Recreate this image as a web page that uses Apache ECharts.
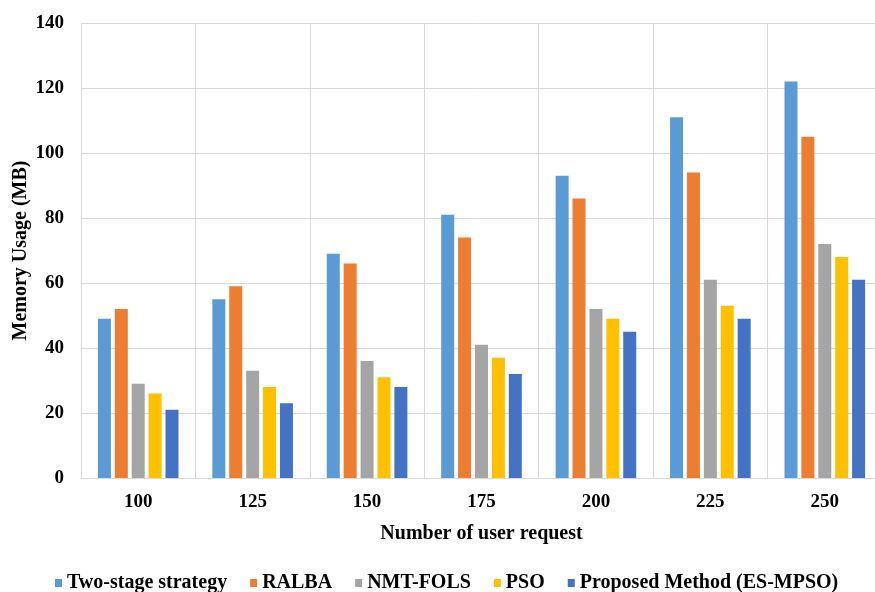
<!DOCTYPE html>
<html><head><meta charset="utf-8">
<script src="https://cdn.jsdelivr.net/npm/echarts@6/dist/echarts.min.js"></script>
<style>html,body{margin:0;padding:0;background:#fff}#c{width:875px;height:592px}</style>
</head><body><div id="c"></div>
<script>
const categories = ['100','125','150','175','200','225','250'];
const twoStage = [49, 55, 69, 81, 93, 111, 122];
const ralba = [52, 59, 66, 74, 86, 94, 105];
const nmtFols = [29, 33, 36, 41, 52, 61, 72];
const pso = [26, 28, 31, 37, 49, 53, 68];
const proposed = [21, 23, 28, 32, 45, 49, 61];
const seriesNames = ['Two-stage strategy','RALBA','NMT-FOLS','PSO','Proposed Method (ES-MPSO)'];
const seriesData = [twoStage, ralba, nmtFols, pso, proposed];
const colors = ['#5B9BD5','#ED7D31','#A5A5A5','#FFC000','#4472C4'];
const font = 'Liberation Serif, Times New Roman, serif';
const chart = echarts.init(document.getElementById('c'));
chart.setOption({
  animation:false,
  color: colors,
  grid:{left:81, top:23, width:801, height:455, containLabel:false, outerBoundsMode:'none'},
  legend:{top:568, left:50, icon:'rect', itemWidth:7, itemHeight:8, itemGap:23,
    textStyle:{fontFamily:font, fontWeight:'bold', fontSize:20, color:'#000'}},
  xAxis:{type:'category', data:categories,
    name:'Number of user request', nameLocation:'middle', nameGap:46,
    nameTextStyle:{fontFamily:font, fontWeight:'bold', fontSize:20, color:'#000'},
    axisLine:{lineStyle:{color:'#d9d9d9'}}, axisTick:{show:false},
    splitLine:{show:true, lineStyle:{color:'#d9d9d9', width:1}},
    axisLabel:{fontFamily:font, fontWeight:'bold', fontSize:19, color:'#000', margin:15}},
  yAxis:{type:'value', min:0, max:140, interval:20,
    name:'Memory Usage (MB)', nameLocation:'middle', nameGap:50, nameMoveOverlap:false,
    nameTextStyle:{fontFamily:font, fontWeight:'bold', fontSize:20, color:'#000'},
    axisLine:{show:false}, axisTick:{show:false},
    splitLine:{lineStyle:{color:'#d9d9d9', width:1}},
    axisLabel:{fontFamily:font, fontWeight:'bold', fontSize:19, color:'#000', margin:17}},
  series: seriesNames.map((n,i)=>({name:n, type:'bar', data:seriesData[i], barWidth:13, barGap:'30%'}))
});
</script></body></html>
